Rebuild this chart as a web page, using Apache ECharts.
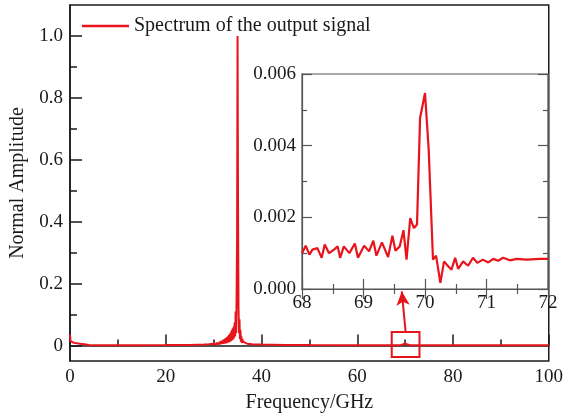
<!DOCTYPE html>
<html>
<head>
<meta charset="utf-8">
<script src="https://cdn.jsdelivr.net/npm/echarts@6/dist/echarts.min.js"></script>
<style>
html,body{margin:0;padding:0;background:#fff;}
#chart{width:566px;height:418px;}
</style>
</head>
<body>
<div id="chart"></div>
<script>
// ---- data ----
const seriesName = 'Spectrum of the output signal';
const mainFreq = [0, 0.1, 0.3, 0.6, 1, 1.5, 2, 3, 4, 6, 10, 15, 20, 25, 28, 29,
  30.0, 30.1, 30.2, 30.3, 30.4, 30.5, 30.6, 30.7, 30.8, 30.9,
  31.0, 31.1, 31.2, 31.3, 31.4, 31.5, 31.6, 31.7, 31.8, 31.9,
  32.0, 32.1, 32.2, 32.3, 32.4, 32.5, 32.6, 32.7, 32.8, 32.9,
  33.0, 33.1, 33.2, 33.3, 33.4, 33.5, 33.6, 33.7, 33.8, 33.9,
  34.0, 34.1, 34.2, 34.3, 34.4, 34.5, 34.6, 34.7, 34.8, 34.9,
  35.0, 35.1, 35.2, 35.3, 35.4, 35.5, 35.6, 35.7, 35.8, 35.9,
  36.0, 36.2, 36.5, 37, 38, 40, 45, 50, 60, 69, 70, 71, 80, 90, 100];
const mainAmp = [0.035, 0.015, 0.012, 0.010, 0.008, 0.007, 0.006, 0.004, 0.002, 0.001, 0.001, 0.0012, 0.0015, 0.002, 0.003, 0.004,
  0.006, 0.002, 0.007, 0.002, 0.008, 0.002, 0.009, 0.003, 0.010, 0.003,
  0.011, 0.003, 0.012, 0.004, 0.013, 0.004, 0.015, 0.005, 0.016, 0.005,
  0.018, 0.006, 0.020, 0.006, 0.022, 0.007, 0.024, 0.008, 0.027, 0.009,
  0.030, 0.010, 0.034, 0.011, 0.038, 0.013, 0.043, 0.015, 0.050, 0.018,
  0.056, 0.020, 0.062, 0.025, 0.075, 0.030, 0.110, 0.040, 0.160, 0.350,
  1.000, 0.450, 0.120, 0.040, 0.085, 0.020, 0.050, 0.012, 0.030, 0.008,
  0.020, 0.012, 0.008, 0.006, 0.004, 0.003, 0.002, 0.0015, 0.001, 0.001, 0.0055, 0.0008, 0.0008, 0.0008, 0.0008];

const insetFreq = [68.00, 68.06, 68.12, 68.17, 68.25, 68.32, 68.37, 68.44, 68.52, 68.58,
  68.62, 68.68, 68.77, 68.86, 68.91, 69.01, 69.09, 69.16, 69.21, 69.30,
  69.40, 69.47, 69.52, 69.59, 69.65, 69.70, 69.76, 69.82, 69.87, 69.92,
  70.00, 70.06, 70.13, 70.18, 70.25, 70.31, 70.38, 70.43, 70.49, 70.54,
  70.62, 70.70, 70.78, 70.85, 70.94, 71.03, 71.11, 71.19, 71.27, 71.38,
  71.49, 71.65, 71.87, 72.00];
const insetAmp = [0.00100, 0.00121, 0.00096, 0.00110, 0.00114, 0.00087, 0.00124, 0.00100, 0.00110, 0.00119,
  0.00087, 0.00119, 0.00100, 0.00127, 0.00087, 0.00121, 0.00105, 0.00135, 0.00093, 0.00130,
  0.00089, 0.00149, 0.00107, 0.00119, 0.00164, 0.00082, 0.00198, 0.00170, 0.00180, 0.00477,
  0.00547, 0.00389, 0.00082, 0.00093, 0.00017, 0.00077, 0.00063, 0.00054, 0.00087, 0.00056,
  0.00077, 0.00065, 0.00087, 0.00073, 0.00082, 0.00074, 0.00084, 0.00079, 0.00087, 0.00080,
  0.00084, 0.00082, 0.00084, 0.00084];

const mainYTicks = [0, 0.2, 0.4, 0.6, 0.8, 1.0];
const mainYMinor = [0.1, 0.3, 0.5, 0.7, 0.9];
// zoom box (data coords of main chart) and arrow
const boxRange = {x0: 67.2, x1: 73.0, y0: -0.037, y1: 0.044};
const arrowFrom = [70.1, 0.044];
const arrowTo = [69.3, 0.175];

// ---- chart ----
const RED = '#e8141c';
const FONT = 'Liberation Serif';
const chart = echarts.init(document.getElementById('chart'), null, {renderer: 'canvas'});
const mainData = mainFreq.map((f, i) => [f, mainAmp[i]]);
const insetData = insetFreq.map((f, i) => [f, insetAmp[i]]);

const txt = {fontFamily: FONT, fontSize: 19, color: '#1a1a1a'};
const nameTxt = {fontFamily: FONT, fontSize: 20, color: '#1a1a1a'};

chart.setOption({
  animation: false,
  backgroundColor: '#fff',
  legend: {
    left: 77, top: 11,
    icon: 'rect',
    itemWidth: 47, itemHeight: 2.5, itemGap: 3,
    textStyle: {fontFamily: FONT, fontSize: 20, color: '#1a1a1a'},
    data: [seriesName]
  },
  grid: [
    {left: 69, right: 12, top: 5, bottom: 57, show: true, borderColor: '#1a1a1a', borderWidth: 1.5, backgroundColor: 'transparent'},
    {left: 302, right: 18, top: 74, bottom: 129, show: true, borderColor: '#555', borderWidth: 1.2, backgroundColor: '#fff', z: 5}
  ],
  xAxis: [
    {type: 'value', gridIndex: 0, min: 0, max: 100, interval: 20,
      name: 'Frequency/GHz', nameLocation: 'middle', nameGap: 32, nameTextStyle: nameTxt,
      axisLine: {show: true, lineStyle: {color: '#1a1a1a', width: 1.5}},
      axisTick: {show: true, inside: true, length: 11, lineStyle: {color: '#1a1a1a', width: 1.5}},
      minorTick: {show: true, splitNumber: 2, length: 6, lineStyle: {color: '#1a1a1a', width: 1.5}},
      axisLabel: Object.assign({margin: 7}, txt),
      splitLine: {show: false}},
    {type: 'value', gridIndex: 1, min: 68, max: 72, interval: 1, position: 'bottom',
      axisLine: {show: true, lineStyle: {color: '#555', width: 1.2}},
      axisTick: {show: true, inside: true, length: 10, lineStyle: {color: '#555', width: 1.2}},
      minorTick: {show: true, splitNumber: 2, length: 5, lineStyle: {color: '#555', width: 1.2}},
      axisLabel: Object.assign({margin: 5}, txt),
      splitLine: {show: false}, z: 6},
    {type: 'value', gridIndex: 1, min: 68, max: 72, interval: 1, position: 'top',
      axisLine: {show: true, lineStyle: {color: '#555', width: 1.2}},
      axisTick: {show: true, inside: true, length: 10, lineStyle: {color: '#555', width: 1.2}},
      minorTick: {show: true, splitNumber: 2, length: 5, lineStyle: {color: '#555', width: 1.2}},
      axisLabel: {show: false},
      splitLine: {show: false}, z: 6}
  ],
  yAxis: [
    {type: 'value', gridIndex: 0, min: -0.05, max: 1.1,
      name: 'Normal Amplitude', nameLocation: 'middle', nameGap: 42, nameTextStyle: nameTxt,
      axisLine: {show: true, lineStyle: {color: '#1a1a1a', width: 1.5}},
      axisTick: {show: true, inside: true, length: 12, customValues: mainYTicks, lineStyle: {color: '#1a1a1a', width: 1.5}},
      axisLabel: Object.assign({margin: 7, customValues: mainYTicks,
        formatter: v => (Math.abs(v) < 1e-9 ? '0' : v.toFixed(1))}, txt),
      splitLine: {show: false}},
    {type: 'value', gridIndex: 0, min: -0.05, max: 1.1, position: 'left', offset: 0,
      axisLine: {show: false},
      axisTick: {show: true, inside: true, length: 7, customValues: mainYMinor, lineStyle: {color: '#1a1a1a', width: 1.5}},
      axisLabel: {show: false},
      splitLine: {show: false}},
    {type: 'value', gridIndex: 1, min: 0, max: 0.006, interval: 0.002, position: 'left',
      axisLine: {show: true, lineStyle: {color: '#555', width: 1.2}},
      axisTick: {show: true, inside: true, length: 10, lineStyle: {color: '#555', width: 1.2}},
      minorTick: {show: true, splitNumber: 2, length: 5, lineStyle: {color: '#555', width: 1.2}},
      axisLabel: Object.assign({margin: 6, formatter: v => v.toFixed(3)}, txt),
      splitLine: {show: false}, z: 6},
    {type: 'value', gridIndex: 1, min: 0, max: 0.006, interval: 0.002, position: 'right',
      axisLine: {show: true, lineStyle: {color: '#555', width: 1.2}},
      axisTick: {show: true, inside: true, length: 10, lineStyle: {color: '#555', width: 1.2}},
      minorTick: {show: true, splitNumber: 2, length: 5, lineStyle: {color: '#555', width: 1.2}},
      axisLabel: {show: false},
      splitLine: {show: false}, z: 6}
  ],
  series: [
    {name: seriesName, type: 'line', xAxisIndex: 0, yAxisIndex: 0, data: mainData,
      symbol: 'none', showSymbol: false, color: RED,
      itemStyle: {color: RED},
      lineStyle: {color: RED, width: 2}, clip: true, z: 2,
      markArea: {silent: true,
        itemStyle: {color: 'rgba(0,0,0,0)', borderColor: RED, borderWidth: 2},
        data: [[{coord: [boxRange.x0, boxRange.y0]}, {coord: [boxRange.x1, boxRange.y1]}]]},
      markLine: {silent: true, symbol: ['none', 'arrow'], symbolSize: [10, 14],
        lineStyle: {color: RED, width: 2, type: 'solid'}, label: {show: false},
        data: [[{coord: arrowFrom}, {coord: arrowTo}]]}
    },
    {name: 'inset', type: 'line', xAxisIndex: 1, yAxisIndex: 2, data: insetData,
      symbol: 'none', showSymbol: false, color: RED,
      lineStyle: {color: RED, width: 2.2}, z: 7}
  ]
});
</script>
</body>
</html>
